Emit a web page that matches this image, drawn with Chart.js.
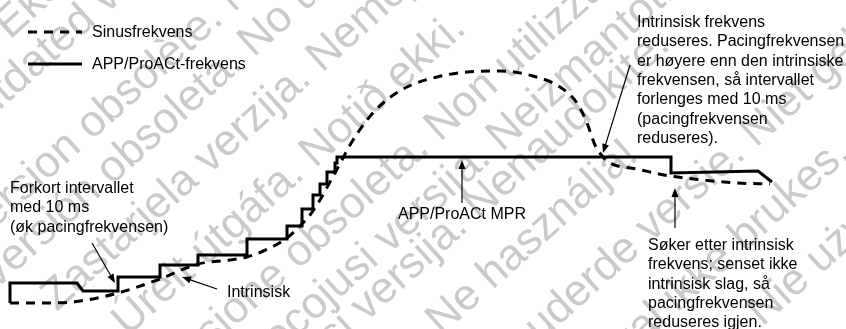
<!DOCTYPE html>
<html>
<head>
<meta charset="utf-8">
<script src="https://cdn.jsdelivr.net/npm/chart.js@4.4.1/dist/chart.umd.min.js"></script>
<style>
  html, body { margin: 0; padding: 0; background: #fff; }
  #wrap { width: 846px; height: 329px; }
</style>
</head>
<body>
<div id="wrap"><canvas id="chart"></canvas></div>
<script>
// time (arbitrary units) and rate values
const sinusTime = [1.0, 5.0, 8.0, 11.8, 16.0, 19.8, 23.0, 24.7, 27.0, 28.7, 30.0, 31.0, 32.0, 33.0, 34.2, 35.0, 36.7, 38.3, 40.7, 43.7, 46.7, 50.0, 53.3, 56.0, 57.7, 58.7, 59.5, 60.3, 61.0, 63.7, 67.0, 70.3, 73.7, 77.0];
const sinusRate = [13, 13, 14, 18, 25, 32.5, 34.5, 36, 40.5, 45.5, 51.5, 57, 64.5, 73.5, 84.5, 92, 104.5, 113, 121, 126, 128.5, 129, 126.5, 121, 113, 103, 92, 86, 83, 80, 76.5, 74.5, 73, 72.5];

const pacedTime = [1.0, 1.0, 7.7, 8.3, 11.8, 11.8, 16.0, 16.0, 19.8, 19.8, 24.7, 24.7, 28.7, 28.7, 30.2, 30.2, 31.3, 31.3, 32.0, 32.0, 32.7, 32.7, 33.5, 33.5, 33.7, 33.7, 67.1, 67.1, 75.8, 77.2];
const pacedRate = [13, 23, 23, 19, 19, 26, 26, 32, 32, 37, 37, 45, 45, 51.5, 51.5, 60, 60, 67, 67, 72.5, 72.5, 78.5, 78.5, 83, 83, 86, 86, 78, 79, 73.5];

const seriesNames = ['Sinusfrekvens', 'APP/ProACt-frekvens'];

// notes: text lines, where the text starts, and the arrow (from -> to) in data units
const noteLines = [
  ['Intrinsisk frekvens', 'reduseres. Pacingfrekvensen', 'er høyere enn den intrinsiske', 'frekvensen, så intervallet', 'forlenges med 10 ms', '(pacingfrekvensen', 'reduseres).'],
  ['Forkort intervallet', 'med 10 ms', '(øk pacingfrekvensen)'],
  ['Intrinsisk'],
  ['APP/ProACt MPR'],
  ['Søker etter intrinsisk', 'frekvens; senset ikke', 'intrinsisk slag, så', 'pacingfrekvensen', 'reduseres igjen.']
];
const noteX = [63.7, 1.0, 22.7, 46.2, 64.8];
const noteY = [151, 68, 16, 55, 39.5];
const noteAlign = ['left', 'left', 'left', 'center', 'left'];
const arrowFrom = [[63.0, 132], [9.2, 43], [21.7, 20], [46.2, 63], [67.5, 50.5]];
const arrowTo = [[60.3, 88], [11.5, 23], [18.2, 26], [46.2, 84.5], [67.5, 70.5]];

// background watermark bands
const wmText = [
  'Έκδοση που έχει λήξει. Μην την χρησιμοποιείτε.',
  'Outdated version. Do not use.',
  'Version obsolète. Ne pas utiliser.',
  'Versión obsoleta. No utilizar.',
  'Zastarjela verzija. Nemojte upotrebljavati.',
  'Úrelt útgáfa. Notið ekki.',
  'Versione obsoleta. Non utilizzare.',
  'Novecojusi versija. Neizmantot.',
  'Pasenusi versija. Nenaudokite.',
  'Elavult verzió. Ne használja!',
  'Dit is een verouderde versie. Niet gebruiken.',
  'Utdatert versjon. Skal ikke brukes.',
  'Wersja przeterminowana. Nie używać.'
];
const wmWord = ['Έκδοση', 'Outdated', 'obsolète.', 'Versión', 'verzija.', 'Notið', 'utilizzare.', 'Neizmantot.', 'Nenaudokite.', 'használja!', 'Niet', 'brukes.', 'Nie'];
const wmCenter = [[56, -18], [22, 74], [150, 72], [40, 234], [253, 119], [345, 125], [570, 9], [581, 65], [567, 125], [558, 215], [777, 113], [790, 195], [779, 296]];

const FONT = '"Liberation Sans", Arial, sans-serif';

const watermark = {
  id: 'watermark',
  beforeDatasetsDraw(chart) {
    const ctx = chart.ctx;
    ctx.save();
    ctx.font = '44px ' + FONT;
    ctx.fillStyle = '#cacaca';
    ctx.textBaseline = 'middle';
    ctx.textAlign = 'left';
    wmText.forEach((t, i) => {
      const idx = t.indexOf(wmWord[i]);
      const pre = ctx.measureText(t.slice(0, idx)).width;
      const w = ctx.measureText(wmWord[i]).width;
      ctx.save();
      ctx.translate(wmCenter[i][0], wmCenter[i][1]);
      ctx.rotate(-42 * Math.PI / 180);
      ctx.fillText(t, -pre - w / 2, 0);
      ctx.restore();
    });
    ctx.restore();
  }
};

function drawArrow(ctx, x1, y1, x2, y2) {
  const a = Math.atan2(y2 - y1, x2 - x1);
  const head = 9, half = 3.5;
  ctx.beginPath();
  ctx.moveTo(x1, y1);
  ctx.lineTo(x2 - head * 0.8 * Math.cos(a), y2 - head * 0.8 * Math.sin(a));
  ctx.stroke();
  ctx.beginPath();
  ctx.moveTo(x2, y2);
  ctx.lineTo(x2 - head * Math.cos(a) + half * Math.sin(a), y2 - head * Math.sin(a) - half * Math.cos(a));
  ctx.lineTo(x2 - head * Math.cos(a) - half * Math.sin(a), y2 - head * Math.sin(a) + half * Math.cos(a));
  ctx.closePath();
  ctx.fill();
}

const notes = {
  id: 'notes',
  afterDatasetsDraw(chart) {
    const ctx = chart.ctx;
    const sx = chart.scales.x, sy = chart.scales.y;
    ctx.save();
    ctx.fillStyle = '#000';
    ctx.strokeStyle = '#000';
    ctx.lineWidth = 1.2;
    ctx.font = '16px ' + FONT;
    ctx.textBaseline = 'alphabetic';
    noteLines.forEach((lines, i) => {
      ctx.textAlign = noteAlign[i];
      const x = sx.getPixelForValue(noteX[i]);
      const y = sy.getPixelForValue(noteY[i]);
      lines.forEach((line, j) => ctx.fillText(line, x, y + j * 19.3));
      drawArrow(ctx,
        sx.getPixelForValue(arrowFrom[i][0]), sy.getPixelForValue(arrowFrom[i][1]),
        sx.getPixelForValue(arrowTo[i][0]), sy.getPixelForValue(arrowTo[i][1]));
    });

    // legend, top left
    const ds = chart.data.datasets;
    ds.forEach((d, i) => {
      const y = 32 + i * 32;
      ctx.beginPath();
      ctx.lineWidth = 3;
      ctx.setLineDash(d.borderDash || []);
      ctx.moveTo(28, y);
      ctx.lineTo(82, y);
      ctx.stroke();
      ctx.setLineDash([]);
      ctx.textAlign = 'left';
      ctx.textBaseline = 'middle';
      ctx.fillText(d.label, 92, y + 1);
    });
    ctx.restore();
  }
};

new Chart(document.getElementById('chart'), {
  type: 'line',
  data: {
    datasets: [
      {
        label: seriesNames[0],
        data: sinusTime.map((t, i) => ({ x: t, y: sinusRate[i] })),
        borderColor: '#000',
        borderWidth: 3,
        borderDash: [9, 7],
        cubicInterpolationMode: 'monotone',
        pointRadius: 0,
        fill: false
      },
      {
        label: seriesNames[1],
        data: pacedTime.map((t, i) => ({ x: t, y: pacedRate[i] })),
        borderColor: '#000',
        borderWidth: 3,
        borderJoinStyle: 'miter',
        tension: 0,
        pointRadius: 0,
        fill: false
      }
    ]
  },
  options: {
    responsive: true,
    maintainAspectRatio: false,
    animation: false,
    layout: { padding: 0 },
    plugins: {
      legend: { display: false },
      tooltip: { enabled: false }
    },
    scales: {
      x: { type: 'linear', min: 0, max: 84.6, display: false },
      y: { type: 'linear', min: 0, max: 164.5, display: false }
    }
  },
  plugins: [watermark, notes]
});
</script>
</body>
</html>
